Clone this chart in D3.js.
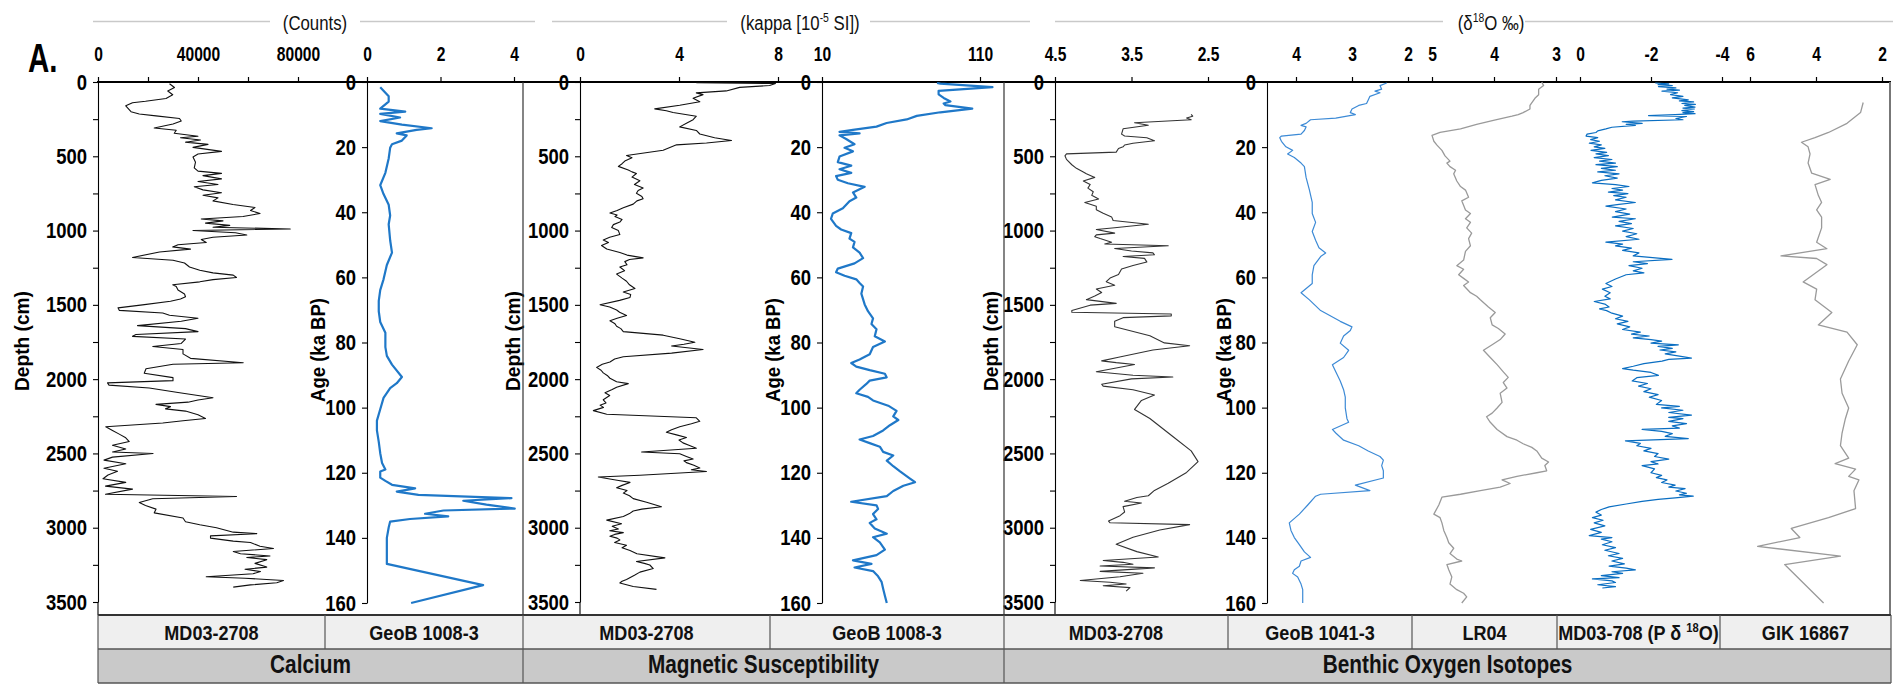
<!DOCTYPE html>
<html><head><meta charset="utf-8">
<script src="https://cdn.jsdelivr.net/npm/d3@7"></script>
<style>html,body{margin:0;padding:0;background:#fff}svg{display:block}</style>
</head><body>
<svg id="c" width="1904" height="686"></svg>
<script>
// ---------------- DATA ----------------
// Calcium, MD03-2708 : [depth cm, counts]
const caMD03 = [[12,28600],[37,30600],[61,27900],[86,29900],[111,27200],[130,19000],[140,13800],[160,11100],[200,13200],[215,16500],[228,23200],[246,32600],[263,33300],[283,30000],[310,22500],[325,31300],[345,30500],[365,40000],[375,33000],[390,41000],[405,35000],[420,44000],[440,38000],[467,49400],[485,40000],[505,38000],[540,39000],[578,38500],[600,40000],[615,49400],[630,42000],[652,49400],[670,40000],[690,48000],[705,38500],[726,42000],[745,49400],[762,42000],[780,48000],[800,46000],[825,54000],[845,62800],[865,61000],[885,64800],[905,58000],[922,41300],[935,50000],[950,43000],[965,52700],[978,46000],[989,76900],[1000,38000],[1015,55000],[1030,59500],[1045,46000],[1060,41300],[1080,43300],[1095,32000],[1110,29900],[1125,37000],[1144,24600],[1181,13800],[1200,30000],[1218,34600],[1245,36600],[1267,40700],[1285,46000],[1300,54100],[1316,55400],[1330,46000],[1345,40700],[1365,29900],[1377,31300],[1400,32000],[1427,34600],[1445,35000],[1460,33000],[1476,29000],[1500,17800],[1520,8000],[1537,8500],[1555,25900],[1570,28600],[1590,40000],[1610,33300],[1640,15800],[1660,35000],[1680,40000],[1700,15200],[1712,13800],[1730,35000],[1760,33300],[1780,21900],[1800,34000],[1830,34000],[1860,37000],[1890,58100],[1900,30000],[1930,19200],[1960,18500],[1990,30000],[2010,30000],[2025,3800],[2040,4400],[2060,20500],[2090,32000],[2110,40000],[2125,46000],[2140,40000],[2155,36000],[2170,23200],[2185,29000],[2200,27000],[2215,35000],[2240,40000],[2265,43000],[2280,34000],[2295,25900],[2320,3100],[2345,5800],[2370,8500],[2395,11100],[2420,12500],[2445,5800],[2470,11100],[2490,5800],[2500,22000],[2525,5800],[2545,2400],[2570,11100],[2600,2400],[2620,7800],[2645,4000],[2670,2000],[2695,11100],[2720,3000],[2740,13800],[2775,3000],[2790,55400],[2805,21900],[2830,16500],[2850,19000],[2875,23200],[2900,22500],[2935,34000],[2960,35000],[2980,40700],[3000,47400],[3030,54100],[3040,63500],[3055,45000],[3070,45000],[3090,54100],[3100,61000],[3125,64800],[3140,70200],[3160,54100],[3175,57000],[3190,68800],[3200,59500],[3215,67500],[3240,62800],[3265,67500],[3280,58800],[3295,65000],[3310,62000],[3330,43300],[3340,58800],[3355,74200],[3370,71500],[3385,61000],[3400,54100]];
// Calcium, GeoB 1008-3 : [age ka, value]
const caGeoB = [[1.6,0.36],[4.4,0.59],[6,0.59],[8.2,0.36],[9.1,1.04],[9.8,0.36],[10.9,0.9],[12,0.36],[13.1,0.95],[14.2,1.76],[14.7,1.35],[15.8,0.81],[16.4,1.08],[18,0.95],[19.1,0.68],[20.2,0.63],[23.5,0.59],[27.9,0.5],[31.7,0.36],[34.4,0.45],[37.7,0.59],[41,0.63],[43.7,0.59],[48.6,0.63],[52.4,0.68],[56.2,0.54],[60.6,0.45],[63.9,0.36],[67.2,0.32],[70.4,0.32],[73.7,0.36],[77,0.5],[81.4,0.5],[84.1,0.54],[86.8,0.68],[90.6,0.95],[92.5,0.81],[94,0.63],[97,0.45],[100.5,0.36],[104,0.27],[107,0.27],[110.5,0.32],[114,0.36],[117,0.41],[119,0.5],[119.6,0.36],[121.5,0.36],[122.5,0.5],[123.7,0.68],[124.8,1.31],[125.8,0.81],[126.8,1.4],[127.8,3.93],[128.6,2.62],[129.8,3.25],[131,4.02],[131.6,2.08],[132.6,1.58],[133.4,2.21],[134.2,1.17],[135,0.63],[136.8,0.59],[140,0.54],[148,0.54],[154.5,3.16],[160,1.2]];
// Magnetic susceptibility, MD03-2708 : [depth cm, kappa]
const msMD03 = [[5,4.7],[10,7.9],[24,7.66],[36,6.45],[60,5.91],[73,4.7],[85,4.97],[109,4.57],[133,4.84],[157,4.03],[181,3.02],[193,3.49],[205,3.76],[230,4.7],[254,4.57],[278,4.3],[302,4.03],[326,4.7],[350,4.84],[375,5.44],[394,6.12],[411,5.11],[423,3.9],[459,3.36],[495,1.88],[510,2.1],[532,1.81],[550,1.7],[568,1.55],[592,1.95],[605,2.1],[616,2.28],[640,2.1],[665,2.42],[690,2.2],[713,2.55],[730,2.35],[749,2.28],[770,2.5],[786,2.55],[800,2.3],[822,2.15],[846,1.75],[865,1.5],[882,1.21],[895,1.5],[906,1.41],[925,1.7],[943,1.61],[960,1.35],[979,1.28],[1000,1.55],[1027,1.61],[1045,1.2],[1063,0.94],[1080,1.15],[1100,0.87],[1124,1.08],[1148,1.61],[1165,1.9],[1184,2.55],[1195,2.0],[1209,1.81],[1230,1.9],[1245,1.61],[1270,1.8],[1293,1.48],[1320,1.7],[1341,1.88],[1365,2.0],[1390,2.22],[1414,1.75],[1430,2.05],[1450,2.02],[1470,1.6],[1499,0.81],[1515,1.2],[1535,1.48],[1550,1.6],[1571,1.88],[1590,1.5],[1607,1.21],[1625,1.4],[1644,1.48],[1660,1.65],[1680,1.75],[1704,3.36],[1728,4.03],[1752,4.64],[1765,4.2],[1777,3.7],[1801,4.97],[1825,3.7],[1849,1.75],[1865,1.4],[1885,1.21],[1900,0.9],[1921,0.67],[1940,0.85],[1958,0.94],[1975,1.1],[1994,1.21],[2018,1.48],[2030,1.95],[2054,1.48],[2070,1.3],[2091,1.01],[2110,1.2],[2139,0.94],[2160,1.05],[2175,0.81],[2190,0.95],[2212,0.54],[2236,1.08],[2260,4.7],[2284,4.84],[2300,4.5],[2320,4.03],[2340,3.7],[2357,3.49],[2375,3.9],[2393,4.3],[2410,4.0],[2429,4.16],[2445,4.4],[2465,4.7],[2490,2.49],[2502,4.03],[2520,4.3],[2538,4.57],[2550,4.2],[2562,4.3],[2580,4.6],[2598,4.84],[2610,4.5],[2622,5.11],[2647,2.42],[2659,0.74],[2680,1.5],[2695,2.02],[2715,1.7],[2731,1.48],[2750,1.9],[2767,1.75],[2785,2.0],[2804,2.15],[2828,2.69],[2859,3.29],[2875,2.5],[2888,2.15],[2905,2.0],[2925,1.75],[2949,1.08],[2973,1.68],[2990,1.3],[3009,1.55],[3020,1.2],[3033,1.75],[3045,1.4],[3058,1.21],[3070,1.5],[3082,1.61],[3100,1.4],[3118,1.88],[3135,1.7],[3154,2.02],[3175,2.3],[3203,3.43],[3227,2.28],[3240,2.6],[3251,2.82],[3275,2.96],[3299,2.42],[3320,2.2],[3348,1.88],[3360,1.7],[3372,1.61],[3396,2.15],[3415,3.09]];
// Magnetic susceptibility, GeoB 1008-3 : [age ka, kappa]
const msGeoB = [[0.3,82.8],[0.5,84.9],[1.6,117.9],[2.7,83.8],[3.8,83.8],[4.9,87],[6,91.3],[6.6,87],[7.1,88.1],[8.2,105.1],[9.3,84.9],[10.4,70],[11.5,63.6],[12.6,50.9],[13.7,44.5],[14.7,29.6],[15.3,21.1],[15.8,33.8],[16.4,21.1],[17.5,25.3],[19.1,30.6],[20.2,24.3],[21.3,29.6],[22.9,21.1],[24.6,20],[25.7,28.5],[26.8,21.1],[27.9,28.5],[28.9,18.9],[30,20],[31.1,26.4],[32.2,37],[33.9,29.6],[35.5,31.7],[36.6,27.4],[38.8,23.2],[40.4,16.8],[42,15.7],[44.2,18.9],[45.3,22.1],[46.4,28.5],[48.1,27.4],[49.1,30.6],[50.8,29.6],[52.4,33.8],[54.1,36],[55.7,30.6],[57.3,20],[58.4,18.9],[59.5,24.3],[60.6,31.7],[61.7,33.8],[62.8,36],[65,34.9],[68.3,37],[70.4,39.1],[72.6,42.3],[74.3,41.3],[75.9,44.5],[78.1,43.4],[79.7,49.8],[81.4,42.3],[83.6,40.2],[85.2,33.8],[86.3,28.5],[87.4,31.7],[88.5,40.2],[89.6,49.8],[90.7,50.9],[91.7,40.2],[92.8,37.9],[94.5,33.8],[95.6,31.7],[96.7,39.1],[97.8,42.3],[99.4,51.9],[101,57.2],[102.7,55.1],[103.8,58.3],[105.4,53],[107,48.7],[108.7,42.3],[109.8,33.8],[110.9,40.2],[112,46.6],[113.6,48.7],[114.7,55.1],[116.3,51],[118,55.1],[119.6,59.4],[121.8,65.7],[122.9,68.9],[124,61.5],[125.6,55.1],[127.2,51],[128.9,28.5],[130,44.5],[131.1,45.5],[132.7,42.3],[134.3,44.5],[135.4,40.2],[137.1,43.4],[138.7,51],[139.8,42.3],[141.4,46.6],[143.6,49.8],[145.3,44.5],[146.9,29.6],[148,41.3],[149.1,30.6],[150.2,42.3],[151.8,45.5],[153.5,47.7],[155.6,48.7],[157.8,49.8],[160,51]];
// Benthic d18O, MD03-2708 : [depth cm, permil]
const o18MD03 = [[218,2.72],[230,2.70],[242,2.78],[254,2.72],[274,3.46],[291,3.28],[315,3.61],[351,3.63],[363,3.59],[375,3.30],[395,3.20],[412,3.48],[424,3.59],[436,3.61],[448,3.67],[472,3.70],[484,4.35],[497,4.37],[521,4.35],[557,4.28],[581,4.22],[606,4.13],[618,4.09],[642,3.98],[666,4.13],[690,4.04],[714,4.07],[739,4.0],[763,4.02],[787,3.93],[811,4.11],[836,3.96],[860,3.96],[884,3.87],[908,3.76],[932,3.74],[957,3.28],[981,3.72],[993,3.96],[1017,3.72],[1029,3.96],[1041,3.98],[1054,3.91],[1078,3.76],[1090,3.85],[1102,3.02],[1121,3.72],[1138,3.5],[1150,3.22],[1163,3.20],[1175,3.61],[1187,3.33],[1211,3.30],[1235,3.48],[1259,3.63],[1296,3.67],[1320,3.78],[1344,3.83],[1368,3.72],[1393,3.96],[1417,3.89],[1441,3.98],[1465,4.09],[1490,3.70],[1502,4.04],[1538,4.28],[1550,4.28],[1562,2.98],[1574,2.98],[1586,3.61],[1611,3.72],[1647,3.72],[1708,3.26],[1756,3.07],[1775,2.74],[1804,3.22],[1853,3.67],[1877,3.89],[1889,3.70],[1901,3.46],[1925,3.70],[1950,3.96],[1974,3.48],[1986,2.96],[1998,3.50],[2034,3.89],[2047,3.87],[2071,3.48],[2107,3.20],[2143,3.37],[2204,3.46],[2265,3.26],[2386,2.96],[2483,2.72],[2555,2.63],[2628,2.78],[2701,3.02],[2749,3.20],[2785,3.28],[2797,3.43],[2822,3.59],[2834,3.37],[2858,3.61],[2894,3.59],[2919,3.65],[2955,3.80],[2967,3.78],[2979,2.74],[3015,3.13],[3064,3.48],[3112,3.70],[3161,3.43],[3197,3.15],[3221,3.87],[3233,3.61],[3246,3.48],[3258,3.91],[3270,3.20],[3294,3.91],[3306,3.35],[3330,3.65],[3355,4.17],[3367,3.78],[3379,3.57],[3391,3.87],[3403,3.52],[3427,3.57]];
// Benthic d18O, GeoB 1041-3 : [age ka, permil]
const o18GeoB1041 = [[0.3,2.38],[1.1,2.5],[2.2,2.47],[2.8,2.59],[3.3,2.5],[4.4,2.68],[5.5,2.71],[6.6,2.74],[7.2,2.88],[8.3,3.0],[9.4,3.03],[10,2.94],[11.1,3.29],[11.6,3.74],[12.7,3.82],[13.3,3.91],[13.8,3.82],[14.9,3.85],[16,3.91],[16.6,4.26],[17.1,4.29],[18.2,4.26],[19.9,4.18],[21,4.06],[22.1,4.15],[23.2,4.03],[24.9,3.91],[26,3.85],[29.3,3.82],[33.2,3.76],[37,3.71],[40.4,3.71],[43.1,3.65],[45.9,3.71],[48.6,3.65],[50.9,3.59],[52.5,3.47],[53.6,3.56],[56.4,3.68],[59.2,3.71],[61.9,3.71],[64.7,3.91],[66.9,3.76],[70.2,3.56],[73.5,3.21],[75.2,3.0],[76.3,3.03],[78,3.15],[80.2,3.21],[82.4,3.06],[84.6,3.15],[86.8,3.35],[89,3.29],[91.8,3.21],[94.5,3.15],[96.8,3.12],[100.1,3.12],[103.4,3.09],[104.5,3.06],[106.7,3.35],[107.8,3.29],[110,3.15],[111.7,2.88],[113.3,2.71],[115,2.5],[116.1,2.44],[117.8,2.47],[119.4,2.44],[121.6,2.44],[123.8,2.94],[125.5,2.68],[126.6,3.56],[127.2,3.65],[129.9,3.79],[132.7,3.94],[135.4,4.12],[137.7,4.09],[139.9,4.03],[142.1,3.94],[144.3,3.85],[146,3.74],[147.1,3.91],[148.7,3.94],[149.8,4.03],[150.9,4.06],[152,3.97],[153.1,3.94],[154.2,3.91],[155.9,3.88],[157.6,3.88],[160,3.88]];
// Benthic d18O, LR04 stack : [age ka, permil]
const o18LR04 = [[0,3.23],[1.1,3.2],[2.2,3.28],[3.9,3.28],[5,3.34],[7.2,3.42],[8.3,3.42],[9.4,3.53],[10,3.61],[10.5,3.71],[11.8,4.01],[13,4.28],[14.4,4.54],[15.5,4.87],[16.4,5.0],[18.2,4.97],[19.4,4.92],[21,4.84],[22.7,4.79],[24.3,4.71],[24.9,4.76],[26,4.71],[27.1,4.62],[28.2,4.65],[30.4,4.6],[32.1,4.54],[33.2,4.46],[35.4,4.41],[36.5,4.52],[39.3,4.46],[40.4,4.38],[42,4.46],[43.1,4.38],[44.8,4.44],[46.4,4.36],[48.1,4.41],[50.3,4.38],[52,4.46],[54.7,4.49],[56.4,4.6],[57.5,4.49],[59.2,4.57],[60.3,4.49],[61.4,4.41],[62.5,4.49],[64.7,4.38],[65.8,4.28],[66.9,4.22],[69.1,4.09],[70.8,3.98],[72.4,4.06],[74.6,4.03],[75.7,3.93],[77.4,3.82],[79.1,3.9],[80.7,4.03],[82.4,4.17],[84.6,4.06],[86.8,3.95],[89,3.85],[90.7,3.77],[92.3,3.85],[94,3.79],[95.6,3.9],[98.4,3.87],[100.1,3.95],[101.7,4.03],[102.8,4.12],[104.5,4.06],[106.7,3.95],[108.9,3.79],[110,3.63],[111.1,3.53],[112.2,3.39],[113.3,3.31],[115.5,3.23],[116.7,3.12],[117.8,3.18],[119.4,3.15],[120,3.31],[121.1,3.63],[122.2,3.87],[123.3,3.74],[124.4,3.9],[125.5,4.22],[126.6,4.54],[127.5,4.84],[129.9,4.89],[132.7,4.97],[133.8,4.87],[135.4,4.84],[137.7,4.81],[139.9,4.76],[141.5,4.73],[143.2,4.65],[144.8,4.71],[146.5,4.6],[147.1,4.52],[148.2,4.76],[149.8,4.73],[152,4.68],[154.2,4.71],[155.9,4.6],[157,4.49],[158.1,4.44],[160,4.52]];
// Planktonic d18O, MD03-708 : [age ka, permil]
const o18MD03708 = [[0.3,-2.12],[0.6,-2.5],[0.8,-2.2],[1.1,-2.6],[1.4,-2.21],[1.8,-2.7],[2.2,-2.45],[2.5,-2.8],[2.8,-2.31],[3.3,-2.75],[3.9,-2.55],[4.4,-2.9],[4.9,-2.6],[5.5,-3.05],[5.8,-2.8],[6.1,-3.2],[6.6,-2.87],[6.9,-3.25],[7.2,-2.95],[7.7,-3.24],[8.0,-2.9],[8.3,-3.22],[8.8,-2.87],[9.1,-3.2],[9.4,-2.9],[9.7,-3.24],[10,-2.68],[10.3,-1.93],[10.6,-3.0],[11.2,-2.7],[11.6,-2.9],[12.0,-1.5],[12.2,-1.19],[12.7,-1.75],[13.0,-1.3],[13.3,-1.56],[13.9,-0.9],[14.4,-0.73],[15.0,-0.5],[15.5,-0.45],[16.0,-0.2],[16.6,-0.17],[17.1,-0.5],[17.7,-0.3],[18.2,-0.55],[18.8,-0.26],[19.3,-0.6],[19.9,-0.4],[20.4,-0.7],[21,-0.31],[21.6,-0.75],[22.1,-0.45],[22.6,-0.8],[23.2,-0.4],[23.8,-0.9],[24.3,-0.55],[24.9,-1.0],[25.4,-0.45],[26,-1.05],[26.5,-0.6],[27.1,-1.0],[27.6,-0.5],[28.2,-1.1],[28.8,-0.7],[29.5,-1.05],[30.2,-0.6],[31,-0.35],[31.5,-1.0],[32.1,-1.38],[32.7,-0.9],[33.2,-1.2],[33.8,-0.8],[34.3,-1.35],[34.9,-0.95],[35.4,-1.3],[36.2,-1.0],[37,-1.56],[37.6,-1.1],[38.1,-0.73],[39,-1.3],[39.8,-1.0],[40.6,-1.4],[41.5,-0.91],[42,-1.56],[42.8,-1.1],[43.5,-1.45],[44.2,-1.0],[45,-1.5],[45.8,-1.2],[46.6,-1.6],[47.5,-1.3],[48.3,-1.66],[49.2,-0.73],[49.8,-1.2],[50.3,-1.0],[51,-1.45],[51.7,-1.2],[52.5,-1.66],[53.4,-1.5],[54.5,-2.59],[55.2,-1.5],[55.8,-1.9],[56.4,-1.38],[57.2,-1.75],[58,-1.5],[58.6,-1.8],[59.2,-1.3],[60.5,-1.0],[61.9,-0.73],[62.8,-0.9],[63.6,-0.63],[64.7,-0.85],[65.8,-0.7],[66.6,-0.85],[67.4,-0.4],[68.2,-0.7],[69.1,-0.82],[69.7,-0.55],[70.2,-0.75],[71.0,-0.9],[71.9,-1.2],[72.7,-1.0],[73.5,-1.35],[74.3,-1.05],[75.2,-1.4],[76,-1.2],[76.8,-1.7],[77.4,-1.45],[78,-1.95],[78.6,-1.5],[79.1,-2.0],[79.6,-2.3],[80.2,-2.0],[80.7,-2.77],[81.2,-2.2],[81.8,-2.6],[82.3,-2.25],[82.9,-2.7],[83.5,-2.4],[84.2,-2.8],[84.8,-3.14],[85.2,-2.5],[85.7,-2.31],[86.5,-1.8],[87.3,-1.5],[88.0,-1.2],[88.5,-1.5],[89.2,-2.0],[90.1,-2.21],[90.8,-1.6],[91.8,-1.47],[92.6,-1.9],[93.4,-1.65],[94.2,-2.0],[95.1,-1.8],[96,-2.2],[96.8,-1.95],[97.8,-2.3],[99,-2.15],[99.6,-2.8],[100.1,-2.3],[100.8,-2.9],[101.5,-2.5],[102.3,-3.14],[103,-2.5],[103.4,-2.9],[104.2,-2.5],[104.9,-3.0],[105.6,-2.6],[106.3,-2.8],[106.7,-1.75],[107.3,-2.3],[108,-2.6],[108.8,-2.4],[109.5,-3.05],[110.2,-1.28],[111,-1.7],[111.7,-1.6],[112.5,-2.0],[113.3,-1.8],[114.1,-2.2],[115,-2.1],[115.8,-2.5],[116.6,-2.0],[117.3,-2.2],[117.8,-1.75],[118.8,-2.1],[120,-2.0],[120.8,-2.3],[121.5,-2.15],[122.2,-2.45],[123,-2.3],[123.8,-2.68],[124.4,-2.5],[124.9,-2.96],[125.6,-2.7],[126.3,-3.0],[126.8,-2.8],[127.2,-3.19],[127.7,-2.68],[128.2,-2.2],[128.8,-1.75],[129.6,-1.3],[130.5,-0.82],[131.3,-0.6],[132.1,-0.45],[133,-0.6],[133.8,-0.35],[134.6,-0.65],[135.4,-0.4],[136.3,-0.7],[137.4,-0.3],[138.3,-0.6],[139.3,-0.26],[139.9,-0.9],[140.4,-0.6],[141.2,-0.9],[142.1,-0.63],[143,-1.0],[143.8,-0.7],[144.8,-1.1],[145.5,-0.8],[146.3,-1.2],[147.1,-0.9],[148,-1.25],[148.7,-0.82],[149.3,-1.3],[149.8,-1.56],[150.4,-0.9],[150.9,-1.2],[151.6,-0.6],[152.2,-1.1],[152.6,-0.35],[153.2,-0.9],[153.7,-1.0],[154.4,-0.5],[155,-1.0],[155.4,-0.63]];
// Benthic d18O, GIK 16867 : [age ka, permil]
const o18GIK = [[6.3,2.57],[9.4,2.65],[12.7,3.06],[15.5,3.62],[17.1,4.03],[18.5,4.44],[19.9,4.24],[22.1,4.18],[24.9,4.24],[28,4.13],[29.9,3.57],[31.5,4.03],[34.8,3.93],[37,3.83],[39.3,3.98],[41.5,3.83],[44.8,3.83],[49.2,3.98],[51.2,3.67],[53.4,5.06],[54.2,3.98],[56.1,3.67],[61.4,4.39],[63.6,3.98],[66.9,4.03],[70.8,3.52],[74.6,3.93],[76.8,3.06],[80.7,2.75],[85.7,3.01],[91.2,3.26],[95.6,3.21],[100.1,3.01],[103.4,3.11],[107.8,3.21],[111.7,3.26],[115.5,3.01],[117.2,3.42],[118.9,2.8],[121.1,3.01],[122.2,2.7],[125.5,2.85],[131,2.8],[133.8,3.62],[137.1,4.75],[139.9,4.49],[142.6,5.77],[145.6,3.26],[148.2,4.95],[160,3.77]];

// tick values
const depthTicks = [0,500,1000,1500,2000,2500,3000,3500];
const depthMinorTicks = [250,750,1250,1750,2250,2750,3250];
const ageTicks = [0,20,40,60,80,100,120,140,160];
const caTicks = [0,40000,80000];
const caMinorTicks = [20000,60000];
const caGeoBTicks = [0,2,4];
const msTicks = [0,4,8];
const msGeoBTicks = [10,110];
const o18MD03Ticks = [4.5,3.5,2.5];
const o18GeoBTicks = [4,3,2];
const lr04Ticks = [5,4,3];
const md708Ticks = [0,-2,-4];
const gikTicks = [6,4,2];

// text labels
const panelLetter = "A.";
const depthTitle = "Depth (cm)";
const ageTitle = "Age (ka BP)";
const groupLabels = ["Calcium","Magnetic Susceptibility","Benthic Oxygen Isotopes"];
const coreLabels = ["MD03-2708","GeoB 1008-3","MD03-2708","GeoB 1008-3","MD03-2708","GeoB 1041-3","LR04",[["MD03-708 (P δ "],["18",1],["O)"]],"GIK 16867"];
const unitLabels = [[["(Counts)"]],[["(kappa [10"],["-5",1],[" SI])"]],[["(δ"],["18",1],["O ‰)"]]];

// ---------------- DRAWING ----------------
const FONT = "'Liberation Sans', Arial, Helvetica, sans-serif";
const svg = d3.select("#c");
const TOP = 82, BOT = 615;
const yDepth = d3.scaleLinear().domain([0,3500]).range([TOP,602]);
const yAge = d3.scaleLinear().domain([0,160]).range([TOP,603]);

function condense(sel, k){
  sel.each(function(){
    const L = this.getComputedTextLength();
    if (L > 0) d3.select(this).attr("textLength", L*k).attr("lengthAdjust","spacingAndGlyphs");
  });
}
function label(parent, x, y, parts, o){
  o = Object.assign({size:19, weight:"bold", k:0.82, anchor:"middle", fill:"#000"}, o||{});
  if (typeof parts === "string") parts = [[parts]];
  const t = parent.append("text")
    .attr("transform", `translate(${x},${y}) scale(${o.k},1)`)
    .attr("text-anchor", o.anchor).attr("font-family", FONT).attr("font-size", o.size)
    .attr("font-weight", o.weight).attr("fill", o.fill);
  let sup = false;
  parts.forEach(p => {
    const ts = t.append("tspan").text(p[0]);
    if (p[1] && !sup){ ts.attr("dy", -o.size*0.38).attr("font-size", o.size*0.62); sup = true; }
    else if (!p[1] && sup){ ts.attr("dy", o.size*0.38); sup = false; }
  });
  return t;
}

// header grey lines and unit labels
const hdr = svg.append("g");
[[93,270],[360,535],[552,727],[870,1030],[1055,1443],[1525,1893]].forEach(s => {
  hdr.append("line").attr("x1",s[0]).attr("x2",s[1]).attr("y1",21.5).attr("y2",21.5)
    .attr("stroke","#c9c9c9").attr("stroke-width",1.5);
});
[315, 800, 1491].forEach((cx,i) => label(hdr, cx, 30, unitLabels[i], {size:21, weight:"normal", k:0.8, fill:"#111"}));

label(svg, 28, 72, panelLetter, {size:41, k:0.72, anchor:"start"});

// series definitions (scale + ticks per panel)
const series = [
  {data:caMD03, y:yDepth, x:d3.scaleLinear([0,80000],[98,298]), ticks:caTicks, minor:caMinorTicks, color:"#111", w:1.1},
  {data:caGeoB, y:yAge, x:d3.scaleLinear([0,4],[367,514]), ticks:caGeoBTicks, color:"#1f78c8", w:2.2},
  {data:msMD03, y:yDepth, x:d3.scaleLinear([0,8],[580,778]), ticks:msTicks, color:"#111", w:1.1},
  {data:msGeoB, y:yAge, x:d3.scaleLinear([10,110],[822,980]), ticks:msGeoBTicks, color:"#1f78c8", w:2.2},
  {data:o18MD03, y:yDepth, x:d3.scaleLinear([4.5,2.5],[1055,1208]), ticks:o18MD03Ticks, color:"#333", w:1.1},
  {data:o18GeoB1041, y:yAge, x:d3.scaleLinear([4,2],[1296,1408]), ticks:o18GeoBTicks, color:"#3c8ad6", w:1.2},
  {data:o18LR04, y:yAge, x:d3.scaleLinear([5,3],[1432,1556]), ticks:lr04Ticks, color:"#9a9a9a", w:1.3},
  {data:o18MD03708, y:yAge, x:d3.scaleLinear([0,-4],[1580,1722]), ticks:md708Ticks, color:"#0a6ec2", w:1.2},
  {data:o18GIK, y:yAge, x:d3.scaleLinear([6,2],[1750,1882]), ticks:gikTicks, color:"#9a9a9a", w:1.3}
];

// top axes
series.forEach(s => {
  const g = svg.append("g").attr("transform", `translate(0,${TOP})`)
    .call(d3.axisTop(s.x).tickValues(s.ticks).tickFormat(d => String(d)).tickSize(5).tickPadding(16).tickSizeOuter(0));
  g.select(".domain").remove();
  g.selectAll("line").attr("stroke","#000").attr("stroke-width",1.2);
  g.selectAll("text").attr("font-family",FONT).attr("font-size",20).attr("font-weight","bold").attr("fill","#000").call(condense,0.78);
  if (s.minor){
    const gm = svg.append("g").attr("transform", `translate(0,${TOP})`)
      .call(d3.axisTop(s.x).tickValues(s.minor).tickFormat("").tickSize(5).tickSizeOuter(0));
    gm.select(".domain").remove();
    gm.selectAll("line").attr("stroke","#000").attr("stroke-width",1.2);
  }
});

// left axes
const leftAxes = [
  {x:98, scale:yDepth, ticks:depthTicks, minor:depthMinorTicks, title:depthTitle, tx:22, len:100, ext:true},
  {x:367, scale:yAge, ticks:ageTicks, title:ageTitle, tx:318, len:104},
  {x:580, scale:yDepth, ticks:depthTicks, minor:depthMinorTicks, title:depthTitle, tx:513, len:100, ext:true},
  {x:822, scale:yAge, ticks:ageTicks, title:ageTitle, tx:773, len:104},
  {x:1055, scale:yDepth, ticks:depthTicks, minor:depthMinorTicks, title:depthTitle, tx:991, len:100, ext:true},
  {x:1267, scale:yAge, ticks:ageTicks, title:ageTitle, tx:1224, len:104}
];
leftAxes.forEach(a => {
  const g = svg.append("g").attr("transform", `translate(${a.x},0)`)
    .call(d3.axisLeft(a.scale).tickValues(a.ticks).tickFormat(d => String(d)).tickSize(5).tickPadding(6).tickSizeOuter(0));
  g.select(".domain").attr("stroke","#000").attr("stroke-width",1.1);
  g.selectAll(".tick line").attr("stroke","#000").attr("stroke-width",1.1);
  g.selectAll("text").attr("font-family",FONT).attr("font-size",22).attr("font-weight","bold").attr("fill","#000").call(condense,0.84);
  if (a.minor){
    const gm = svg.append("g").attr("transform", `translate(${a.x},0)`)
      .call(d3.axisLeft(a.scale).tickValues(a.minor).tickFormat("").tickSize(5).tickSizeOuter(0));
    gm.select(".domain").remove();
    gm.selectAll("line").attr("stroke","#000").attr("stroke-width",1.1);
  }
  if (a.ext){
    svg.append("line").attr("x1",a.x).attr("x2",a.x).attr("y1",a.scale.range()[1]).attr("y2",BOT)
      .attr("stroke","#000").attr("stroke-width",1.1);
  }
  const cy = a.scale === yDepth ? 341 : 350;
  svg.append("text")
    .attr("transform", `translate(${a.tx+7},${cy}) rotate(-90)`)
    .attr("text-anchor","middle").attr("font-family",FONT).attr("font-size",20)
    .attr("font-weight","bold").attr("fill","#000")
    .attr("textLength", a.len).attr("lengthAdjust","spacingAndGlyphs")
    .text(a.title);
});

// frame lines
svg.append("line").attr("x1",97).attr("x2",1891).attr("y1",TOP).attr("y2",TOP).attr("stroke","#000").attr("stroke-width",2);
svg.append("line").attr("x1",1890).attr("x2",1890).attr("y1",TOP).attr("y2",BOT).attr("stroke","#777").attr("stroke-width",2);

// data lines
series.forEach(s => {
  const line = d3.line().x(d => s.x(d[1])).y(d => s.y(d[0]));
  svg.append("path").datum(s.data).attr("d", line).attr("fill","none")
    .attr("stroke", s.color).attr("stroke-width", s.w).attr("stroke-linejoin","round");
});

// bottom label boxes
const boxL = 98, boxR = 1891, r1 = BOT, r2 = 649, r3 = 683;
const coreEdges = [98,325,523,770,1004,1228,1412,1557,1720,1891];
const groupEdges = [98,523,1004,1891];
const bx = svg.append("g");
bx.append("rect").attr("x",boxL).attr("y",r1).attr("width",boxR-boxL).attr("height",r2-r1).attr("fill","#efefef");
bx.append("rect").attr("x",boxL).attr("y",r2).attr("width",boxR-boxL).attr("height",r3-r2).attr("fill","#c9c9c9");
[r1,r2,r3].forEach((yy,i) => bx.append("line").attr("x1",boxL).attr("x2",boxR).attr("y1",yy).attr("y2",yy)
  .attr("stroke", i===0 ? "#333" : "#555").attr("stroke-width", i===0 ? 2 : 1.5));
coreEdges.forEach(xx => bx.append("line").attr("x1",xx).attr("x2",xx).attr("y1",r1).attr("y2",r2).attr("stroke","#555").attr("stroke-width",1.2));
groupEdges.forEach(xx => bx.append("line").attr("x1",xx).attr("x2",xx).attr("y1",r2).attr("y2",r3).attr("stroke","#555").attr("stroke-width",1.2));
// section dividers through plot area
[523,1004].forEach(xx => svg.append("line").attr("x1",xx).attr("x2",xx).attr("y1",TOP).attr("y2",r1).attr("stroke","#333").attr("stroke-width",1.2));

coreLabels.forEach((c,i) => {
  const cx = (coreEdges[i] + coreEdges[i+1]) / 2;
  label(bx, cx, 640, typeof c === "string" ? [[c]] : c, {size:21, k:0.86, fill:"#111"});
});
groupLabels.forEach((c,i) => {
  const cx = (groupEdges[i] + groupEdges[i+1]) / 2;
  label(bx, cx, 673, c, {size:26, k:0.8, fill:"#111"});
});
</script>
</body></html>
